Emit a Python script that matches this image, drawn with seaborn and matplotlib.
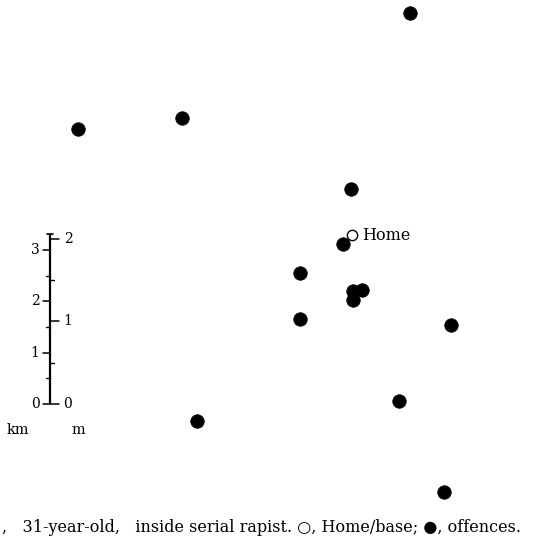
import matplotlib
matplotlib.use("Agg")
import matplotlib.pyplot as plt
import seaborn as sns
import pandas as pd

# Offence locations (km, relative to scale-bar origin)
offence_x = [0.54, 2.58, 7.02, 5.87, 5.71, 4.87, 5.90, 6.08, 5.90, 4.87, 7.81, 6.80, 2.86, 7.68]
offence_y = [5.37, 5.58, 7.62, 4.19, 3.12, 2.56, 2.21, 2.22, 2.03, 1.66, 1.54, 0.06, -0.33, -1.71]
home_x = [5.88]
home_y = [3.29]
home_label = "Home"

km_ticks = [0, 1, 2, 3]
mile_ticks = [0, 1, 2]
KM_PER_MILE = 1.609

caption = ",   31-year-old,   inside serial rapist. \u25cb, Home/base; \u25cf, offences."

sns.set_style("white")
plt.rcParams["text.color"] = "black"
serif = ["DejaVu Serif", "DejaVu Sans"]

fig = plt.figure(figsize=(5.47, 5.47), dpi=100)
ax = fig.add_axes([0, 0, 1, 1])

off = pd.DataFrame({"x": offence_x, "y": offence_y})
home = pd.DataFrame({"x": home_x, "y": home_y})
sns.scatterplot(data=off, x="x", y="y", ax=ax, s=95, color="black",
                edgecolor="black", linewidth=0.5, zorder=3)
sns.scatterplot(data=home, x="x", y="y", ax=ax, s=55, facecolor="white",
                edgecolor="black", linewidth=1.0, zorder=4)
ax.text(home_x[0] + 0.2, home_y[0], home_label, fontsize=11.5, family=serif,
        va="center", ha="left", color="black")

# scale bar
px = 1 / 51.3
top = mile_ticks[-1] * KM_PER_MILE + 0.1
ax.plot([0, 0], [0, top], color="black", lw=1.6, solid_capstyle="butt")
ax.plot([-3 * px, 3 * px], [top, top], color="black", lw=1.2)
for k in km_ticks:
    ax.plot([-7 * px, 0], [k, k], color="black", lw=1.1)
    ax.text(-15 * px, k, str(k), fontsize=10, family=serif, ha="center",
            va="center", color="black")
for k in [0.5, 1.5, 2.5]:
    ax.plot([-4 * px, 0], [k, k], color="black", lw=1.0)
for m in mile_ticks:
    ax.plot([0, 9 * px], [m * KM_PER_MILE, m * KM_PER_MILE], color="black", lw=1.1)
    ax.text(18 * px, m * KM_PER_MILE, str(m), fontsize=10, family=serif,
            ha="center", va="center", color="black")
for m in [0.5, 1.5]:
    ax.plot([0, 4 * px], [m * KM_PER_MILE, m * KM_PER_MILE], color="black", lw=1.0)
ax.text(-32 * px, -26 * px, "km", fontsize=10.5, family=serif, ha="center",
        va="center", color="black")
ax.text(28 * px, -26 * px, "m", fontsize=10.5, family=serif, ha="center",
        va="center", color="black")

ax.set_xlim(-50 * px, 497 * px)
ax.set_ylim((404 - 547) * px, 404 * px)
ax.set_axis_off()

fig.text(2 / 547, 1 - 527 / 547, caption, fontsize=11.5, family=serif,
         ha="left", va="center", color="black")

fig.savefig("out.png", dpi=100)
